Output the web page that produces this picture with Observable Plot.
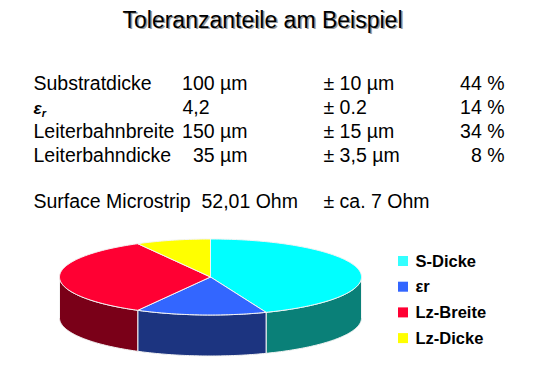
<!DOCTYPE html>
<html>
<head>
<meta charset="utf-8">
<script src="https://cdn.jsdelivr.net/npm/d3@7"></script>
<script src="https://cdn.jsdelivr.net/npm/@observablehq/plot@0.6"></script>
<style>
  html, body { margin: 0; padding: 0; background: #fff; }
  #chart svg { display: block; }
</style>
</head>
<body>
<div id="chart"></div>
<script>
// ---- data ----
const title = "Toleranzanteile am Beispiel";
const params = ["Substratdicke", "εr", "Leiterbahnbreite", "Leiterbahndicke"];
const nominal = ["100 µm", "4,2\u00a0\u00a0\u00a0\u00a0\u00a0\u00a0\u00a0", "150 µm", "35 µm"];
const tolerance = ["± 10 µm", "± 0.2", "± 15 µm", "± 3,5 µm"];
const shares = [44, 14, 34, 8];
const resultLabel = "Surface Microstrip\u00a0 52,01 Ohm";
const resultTolerance = "± ca. 7 Ohm";
const legendLabels = ["S-Dicke", "εr", "Lz-Breite", "Lz-Dicke"];
const topColors = ["#00ffff", "#3366ff", "#ff0033", "#ffff00"];
const sideColors = ["#0a8078", "#1c3480", "#7a0018", "#808000"];
const legendColors = ["#33ffff", "#3366ff", "#ff0033", "#ffff00"];

// ---- layout ----
const W = 540, H = 368;
const font = "Liberation Sans, Arial, Helvetica, sans-serif";
const fs = 19.5;
const rowBase = [89, 113, 137, 161];
const resultBase = 207;
const mid = b => b - 0.32 * fs;
const col1 = 33, col2end = 247, col3 = 323, col4end = 504;
const titleX = 262, titleBase = 27, titleSize = 23;

const tableRows = params.map((p, i) => ({
  label: p, nominal: nominal[i], tol: tolerance[i], pct: shares[i] + " %", y: mid(rowBase[i])
}));

// ---- pie geometry from data ----
const cx = 210, cy = 276.5, rx = 151, ry = 38, depth = 41;
const total = d3.sum(shares);
const pt = (t, dz = 0) => ({ x: cx + rx * Math.sin(t), y: cy - ry * Math.cos(t) + dz });
const arcPts = (t0, t1, dz) => {
  const n = Math.max(2, Math.ceil(Math.abs(t1 - t0) / (Math.PI / 180)));
  return d3.range(n + 1).map(k => pt(t0 + (t1 - t0) * k / n, dz));
};
let acc = 0;
const slices = shares.map((v, i) => {
  const a0 = acc / total * 2 * Math.PI; acc += v;
  const a1 = acc / total * 2 * Math.PI;
  return { i, a0, a1 };
});
const topPolys = [], sidePolys = [];
slices.forEach(s => {
  const pts = [{ x: cx, y: cy }, ...arcPts(s.a0, s.a1, 0), { x: cx, y: cy }];
  pts.forEach(p => topPolys.push({ ...p, id: "t" + s.i, fill: topColors[s.i] }));
  const s0 = Math.max(s.a0, Math.PI / 2), s1 = Math.min(s.a1, 3 * Math.PI / 2);
  if (s1 > s0) {
    const side = [...arcPts(s0, s1, 0), ...arcPts(s1, s0, depth)];
    side.push(side[0]);
    side.forEach(p => sidePolys.push({ ...p, id: "s" + s.i, fill: sideColors[s.i] }));
  }
});

const legendStep = 25.7, legendY0 = 261, legendX = 398, legendSize = 10;
const legendRows = legendLabels.map((l, i) => ({
  label: l, color: legendColors[i], y: legendY0 + i * legendStep
}));

const chart = Plot.plot({
  width: W, height: H,
  margin: 0,
  x: { domain: [0, W], range: [0, W], axis: null },
  y: { domain: [0, H], range: [0, H], axis: null },
  color: { type: "identity" },
  style: { fontFamily: font, background: "#fff", color: "#000" },
  marks: [
    // title with shadow
    Plot.text([title], { x: titleX + 1.5, y: titleBase - 0.32 * titleSize + 1.5, text: d => d, fontSize: titleSize, fill: "#9a9a9a", fontFamily: font }),
    Plot.text([title], { x: titleX, y: titleBase - 0.32 * titleSize, text: d => d, fontSize: titleSize, fill: "#000", fontFamily: font }),
    // table
    Plot.text(tableRows, { x: col1, y: "y", text: "label", textAnchor: "start", fontSize: fs, fill: "#000", fontFamily: font }),
    Plot.text(tableRows, { x: col2end, y: "y", text: "nominal", textAnchor: "end", fontSize: fs, fill: "#000", fontFamily: font }),
    Plot.text(tableRows, { x: col3, y: "y", text: "tol", textAnchor: "start", fontSize: fs, fill: "#000", fontFamily: font }),
    Plot.text(tableRows, { x: col4end, y: "y", text: "pct", textAnchor: "end", fontSize: fs, fill: "#000", fontFamily: font }),
    Plot.text([resultLabel], { x: col1, y: mid(resultBase), text: d => d, textAnchor: "start", fontSize: fs, fill: "#000", fontFamily: font }),
    Plot.text([resultTolerance], { x: col3, y: mid(resultBase), text: d => d, textAnchor: "start", fontSize: fs, fill: "#000", fontFamily: font }),
    // pie sides then tops
    Plot.line(sidePolys, { x: "x", y: "y", z: "id", fill: "fill", stroke: "#f4f4f4", strokeWidth: 1, curve: "linear" }),
    Plot.line(topPolys, { x: "x", y: "y", z: "id", fill: "fill", stroke: "#f4f4f4", strokeWidth: 1, curve: "linear", strokeLinejoin: "round" }),
    // legend
    Plot.rect(legendRows, { x1: legendX, x2: legendX + legendSize, y1: d => d.y - legendSize / 2, y2: d => d.y + legendSize / 2, fill: "color" }),
    Plot.text(legendRows, { x: legendX + 17, y: "y", text: "label", textAnchor: "start", fontSize: 16.5, fontWeight: "bold", fill: "#000", fontFamily: font })
  ]
});
document.getElementById("chart").appendChild(chart);

// epsilon_r with subscript in the table (not in the legend)
d3.select(chart).selectAll("text")
  .filter(function () {
    const g = this.closest("[font-size]");
    return this.textContent === "εr" && g && +g.getAttribute("font-size") === fs;
  })
  .each(function () {
    const t = d3.select(this);
    t.text(null);
    t.append("tspan").attr("font-weight", "bold").attr("font-style", "italic")
      .attr("font-size", 17).text("ε");
    t.append("tspan").attr("font-weight", "bold").attr("font-style", "italic")
      .attr("font-size", 11).attr("dy", 3).text("r");
  });
</script>
</body>
</html>
